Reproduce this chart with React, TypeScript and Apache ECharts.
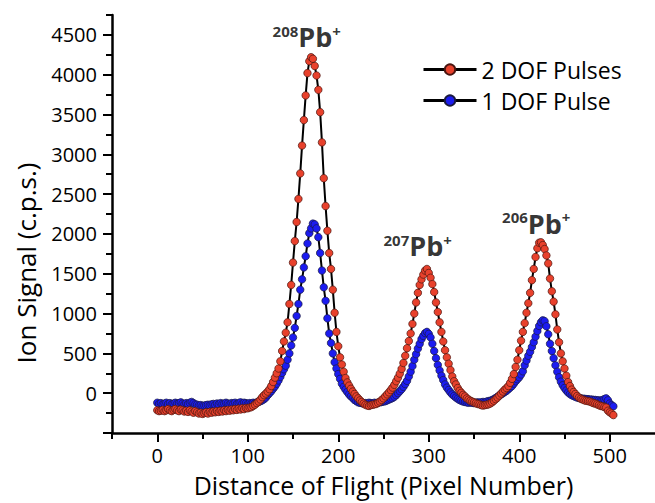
import React, { useEffect, useRef } from 'react';
import * as echarts from 'echarts';

const pixelNumber = [
  0, 2, 4, 6, 8, 10, 12, 14, 16, 18, 20, 22, 24, 26, 28, 30, 32, 34, 36, 38,
  40, 42, 44, 46, 48, 50, 52, 54, 56, 58, 60, 62, 64, 66, 68, 70, 72, 74, 76, 78,
  80, 82, 84, 86, 88, 90, 92, 94, 96, 98, 100, 102, 104, 106, 108, 110, 112, 114, 116, 118,
  120, 122, 124, 126, 128, 130, 132, 134, 136, 138, 140, 142, 144, 146, 148, 150, 152, 154, 156, 158,
  160, 162, 164, 166, 168, 170, 172, 174, 176, 178, 180, 182, 184, 186, 188, 190, 192, 194, 196, 198,
  200, 202, 204, 206, 208, 210, 212, 214, 216, 218, 220, 222, 224, 226, 228, 230, 232, 234, 236, 238,
  240, 242, 244, 246, 248, 250, 252, 254, 256, 258, 260, 262, 264, 266, 268, 270, 272, 274, 276, 278,
  280, 282, 284, 286, 288, 290, 292, 294, 296, 298, 300, 302, 304, 306, 308, 310, 312, 314, 316, 318,
  320, 322, 324, 326, 328, 330, 332, 334, 336, 338, 340, 342, 344, 346, 348, 350, 352, 354, 356, 358,
  360, 362, 364, 366, 368, 370, 372, 374, 376, 378, 380, 382, 384, 386, 388, 390, 392, 394, 396, 398,
  400, 402, 404, 406, 408, 410, 412, 414, 416, 418, 420, 422, 424, 426, 428, 430, 432, 434, 436, 438,
  440, 442, 444, 446, 448, 450, 452, 454, 456, 458, 460, 462, 464, 466, 468, 470, 472, 474, 476, 478,
  480, 482, 484, 486, 488, 490, 492, 494, 496, 498, 500, 502, 504,
];

const twoDofPulses = [
  -215, -225, -220, -210, -225, -215, -200, -215, -225, -210,
  -200, -215, -225, -205, -215, -230, -220, -235, -215, -230,
  -245, -225, -240, -255, -245, -260, -250, -240, -255, -235,
  -245, -230, -240, -225, -235, -220, -230, -215, -225, -210,
  -220, -205, -215, -200, -210, -195, -205, -190, -200, -185,
  -190, -180, -175, -160, -145, -125, -105, -80, -50, -25,
  -5, 20, 50, 90, 140, 195, 250, 310, 400, 530,
  650, 760, 890, 1120, 1360, 1640, 1910, 2150, 2440, 2760,
  3110, 3430, 3740, 4020, 4170, 4220, 4200, 4110, 3990, 3810,
  3530, 3150, 2700, 2350, 2040, 1760, 1560, 1300, 1010, 770,
  590, 450, 360, 270, 190, 135, 95, 55, 20, -10,
  -40, -65, -90, -110, -130, -145, -155, -160, -150, -145,
  -140, -135, -120, -105, -85, -65, -40, -15, 10, 40,
  70, 105, 150, 195, 245, 305, 380, 470, 565, 655,
  750, 870, 1000, 1140, 1260, 1360, 1430, 1490, 1540, 1560,
  1510, 1450, 1370, 1270, 1140, 1020, 890, 770, 650, 540,
  450, 370, 290, 210, 150, 110, 65, 30, 5, -20,
  -40, -65, -80, -95, -105, -115, -125, -135, -140, -150,
  -155, -150, -145, -140, -130, -115, -95, -75, -55, -30,
  -5, 20, 45, 65, 90, 130, 180, 240, 330, 420,
  540, 660, 770, 880, 1010, 1130, 1260, 1420, 1560, 1710,
  1820, 1890, 1895, 1860, 1810, 1730, 1630, 1440, 1280, 1150,
  990, 800, 640, 500, 400, 310, 220, 140, 90, 45,
  15, -10, -35, -55, -70, -80, -90, -95, -100, -105,
  -115, -125, -130, -140, -150, -160, -165, -175, -180, -220,
  -240, -255, -275,
];

const oneDofPulse = [
  -120, -135, -125, -140, -130, -120, -135, -125, -140, -130,
  -120, -130, -125, -115, -130, -140, -125, -135, -120, -110,
  -125, -140, -145, -155, -150, -160, -155, -150, -145, -150,
  -140, -135, -145, -130, -140, -125, -135, -130, -120, -130,
  -140, -125, -130, -120, -135, -125, -115, -130, -120, -125,
  -135, -125, -130, -120, -125, -115, -110, -100, -90, -75,
  -55, -25, 0, 25, 55, 85, 120, 160, 205, 255,
  300, 345, 420, 500, 600, 700, 820, 970, 1120, 1300,
  1430, 1580, 1720, 1880, 2010, 2070, 2130, 2120, 2070, 1960,
  1760, 1540, 1330, 1160, 940, 750, 630, 500, 390, 310,
  240, 180, 120, 80, 45, 15, -15, -40, -60, -85,
  -100, -115, -120, -125, -130, -125, -130, -120, -125, -130,
  -120, -125, -120, -115, -110, -105, -100, -90, -80, -70,
  -60, -45, -25, 0, 25, 50, 80, 115, 155, 210,
  270, 340, 420, 490, 560, 620, 680, 720, 755, 770,
  745, 700, 620, 530, 440, 355, 285, 220, 165, 110,
  70, 40, 10, -15, -35, -55, -70, -85, -95, -105,
  -110, -115, -120, -115, -120, -125, -120, -115, -120, -115,
  -110, -115, -105, -100, -95, -85, -75, -60, -45, -30,
  -15, 0, 15, 30, 50, 70, 90, 120, 150, 175,
  200, 235, 275, 350, 410, 470, 520, 580, 640, 710,
  780, 845, 890, 915, 905, 840, 740, 620, 530, 440,
  350, 270, 200, 145, 100, 65, 35, 10, -10, -25,
  -35, -45, -55, -60, -65, -70, -70, -75, -75, -80,
  -80, -85, -85, -90, -90, -95, -85, -75, -65, -90,
  -130, -150, -165,
];

const seriesNames = ['2 DOF Pulses', '1 DOF Pulse'];
const yTickValues = [-500, 0, 500, 1000, 1500, 2000, 2500, 3000, 3500, 4000, 4500];
const yLabelValues = [0, 500, 1000, 1500, 2000, 2500, 3000, 3500, 4000, 4500];
const yMinorTickValues = [-250, 250, 750, 1250, 1750, 2250, 2750, 3250, 3750, 4250, 4750];
const xTickValues = [0, 100, 200, 300, 400, 500];
const xMinorTickValues = [-50, 50, 150, 250, 350, 450];

const peakMasses = ['208', '207', '206'];
const peakLabelX = [165.2, 287.8, 418.8];
const peakLabelY = [4475, 1850, 2137];

const FONT = 'Open Sans';

export default function App() {
  const ref = useRef<HTMLDivElement>(null);
  useEffect(() => {
    if (!ref.current) return;
    const chart = echarts.init(ref.current, undefined, { renderer: 'svg' });
    const red = pixelNumber.map((x, i) => [x, twoDofPulses[i]]);
    const blue = pixelNumber.map((x, i) => [x, oneDofPulse[i]]);
    const labels = peakMasses.map((m, i) => ({ value: [peakLabelX[i], peakLabelY[i]], mass: m }));

    const baseX = {
      type: 'value',
      min: -50,
      max: 550,
      interval: 50,
      splitLine: { show: false },
    };
    const baseY = {
      type: 'value',
      min: -500,
      max: 4750,
      interval: 250,
      splitLine: { show: false },
    };

    chart.setOption({
      animation: false,
      backgroundColor: '#fff',
      grid: { left: 112, top: 15, right: 0, bottom: 68, containLabel: false },
      legend: {
        data: seriesNames,
        orient: 'vertical',
        left: 417,
        top: 53,
        itemWidth: 53,
        itemHeight: 13,
        itemGap: 8,
        lineStyle: { width: 3, color: '#000' },
        textStyle: { fontSize: 23, color: '#000', fontFamily: FONT },
      },
      xAxis: [
        {
          ...baseX,
          name: 'Distance of Flight (Pixel Number)',
          nameLocation: 'middle',
          nameGap: 39,
          nameTextStyle: { fontSize: 25, lineHeight: 26, color: '#000', fontFamily: FONT },
          axisLine: { show: true, onZero: false, lineStyle: { color: '#000', width: 2.5 } },
          axisTick: { show: true, length: 9, customValues: xTickValues, lineStyle: { color: '#000', width: 2 } },
          axisLabel: {
            customValues: xTickValues,
            margin: 12,
            fontSize: 20,
            lineHeight: 20,
            color: '#000',
            fontFamily: FONT,
            formatter: (v: number) => String(v),
          },
        },
        {
          ...baseX,
          position: 'bottom',
          axisLine: { show: false, onZero: false },
          axisTick: { show: true, length: 6, customValues: xMinorTickValues, lineStyle: { color: '#000', width: 2 } },
          axisLabel: { show: false },
        },
      ],
      yAxis: [
        {
          ...baseY,
          axisLine: { show: true, onZero: false, lineStyle: { color: '#000', width: 2.5 } },
          axisTick: { show: true, length: 9, customValues: yTickValues, lineStyle: { color: '#000', width: 2 } },
          axisLabel: {
            customValues: yLabelValues,
            margin: 15,
            fontSize: 20,
            color: '#000',
            fontFamily: FONT,
            formatter: (v: number) => String(v),
          },
        },
        {
          ...baseY,
          position: 'left',
          axisLine: { show: false, onZero: false },
          axisTick: { show: true, length: 6, customValues: yMinorTickValues, lineStyle: { color: '#000', width: 2 } },
          axisLabel: { show: false },
        },
      ],
      graphic: [
        {
          type: 'text',
          x: 26,
          y: 263,
          rotation: Math.PI / 2,
          style: {
            text: 'Ion Signal (c.p.s.)',
            fontSize: 26,
            fontFamily: FONT,
            fill: '#000',
            align: 'center',
            verticalAlign: 'middle',
          },
        },
      ],
      series: [
        {
          name: '1 DOF Pulse',
          type: 'line',
          data: blue,
          xAxisIndex: 0,
          yAxisIndex: 0,
          symbol: 'circle',
          symbolSize: 7.5,
          showAllSymbol: true,
          z: 2,
          lineStyle: { color: '#000', width: 2 },
          itemStyle: { color: '#1c1cf0', borderColor: '#1a1a40', borderWidth: 0.7 },
        },
        {
          name: '2 DOF Pulses',
          type: 'line',
          data: red,
          xAxisIndex: 0,
          yAxisIndex: 0,
          symbol: 'circle',
          symbolSize: 7.5,
          showAllSymbol: true,
          z: 3,
          lineStyle: { color: '#000', width: 2 },
          itemStyle: { color: '#e8412c', borderColor: '#4a1510', borderWidth: 0.7 },
        },
        {
          name: 'labels',
          type: 'scatter',
          data: labels,
          xAxisIndex: 0,
          yAxisIndex: 0,
          symbolSize: 0,
          z: 5,
          silent: true,
          label: {
            show: true,
            position: 'inside',
            color: '#000',
            formatter: (p: any) => `{m|${p.data.mass}}{e|Pb}{c|+}`,
            rich: {
              m: { fontSize: 15, fontWeight: 'bold', fontFamily: FONT, color: '#000', verticalAlign: 'top' },
              e: { fontSize: 27, fontWeight: 'bold', fontFamily: FONT, color: '#000' },
              c: { fontSize: 15, fontWeight: 'bold', fontFamily: FONT, color: '#000', verticalAlign: 'top' },
            },
          },
        },
      ],
    });
    return () => chart.dispose();
  }, []);
  return <div ref={ref} style={{ position: 'absolute', left: 0, top: 0, width: 655, height: 503 }} />;
}
